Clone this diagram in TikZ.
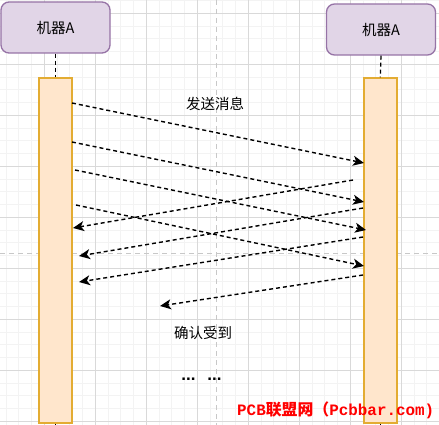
\documentclass[tikz,border=0pt]{standalone}
\usepackage{fontspec}
\setmainfont{Liberation Sans}
\newfontfamily\cjk{Noto Sans CJK SC}
\newfontfamily\wmmono{Liberation Mono}
\usetikzlibrary{arrows.meta}
\definecolor{boxfill}{HTML}{E1D5E7}
\definecolor{boxline}{HTML}{9673A6}
\definecolor{barfill}{HTML}{FFE6CC}
\definecolor{barline}{HTML}{E3AC32}
\definecolor{gridminor}{HTML}{F3F3F3}
\definecolor{gridmajor}{HTML}{D9D9D9}
\definecolor{guide}{HTML}{C8C8C8}
\tikzset{
  lifebox/.style={draw=boxline, fill=boxfill, line width=1.3pt, rounded corners=8pt,
    minimum width=109pt, minimum height=51pt, inner sep=0pt, font=\fontsize{14.5}{16}\selectfont\cjk},
  actbar/.style={draw=barline, fill=barfill, line width=1.5pt, minimum width=33pt, minimum height=345pt, inner sep=0pt},
  lifeline/.style={line width=1.3pt, dash pattern=on 4pt off 3pt},
  msg/.style={line width=1.4pt, dash pattern=on 4pt off 3pt, -{Stealth[length=11pt,width=10pt,inset=3pt]}},
  lbl/.style={font=\fontsize{14.5}{16}\selectfont\cjk, inner sep=0pt}
}
\begin{document}
\begin{tikzpicture}[x=1pt,y=-1pt]
\useasboundingbox (0,0) rectangle (439,425);
\fill[white] (0,0) rectangle (439,425);
% grid
\foreach \i in {-4,...,31} {
  \draw[gridminor, line width=0.8pt] ({44.3+12.75*\i},0) -- ({44.3+12.75*\i},425);
}
\foreach \i in {-2,...,33} {
  \draw[gridminor, line width=0.8pt] (0,{13.3+12.75*\i}) -- (439,{13.3+12.75*\i});
}
\foreach \i in {-1,...,8} {
  \draw[gridmajor, line width=0.8pt] ({44.3+51*\i},0) -- ({44.3+51*\i},425);
  \draw[gridmajor, line width=0.8pt] (0,{13.3+51*\i}) -- (439,{13.3+51*\i});
}
\draw[guide, line width=1pt, dash pattern=on 5pt off 4pt] (216,0) -- (216,425);
\draw[guide, line width=1pt, dash pattern=on 5pt off 4pt] (0,253) -- (439,253);

% lifelines
\node[lifebox] (A1) at (55.5,27.5) {机器A};
\node[lifebox] (A2) at (381,29.5) {机器A};
\node[actbar] (B1) at (55.5,250.5) {};
\node[actbar] (B2) at (380.3,250.5) {};
\coordinate (E1) at (55.5,440);
\coordinate (E2) at (380.3,440);
\draw[lifeline] (A1.south) -- (B1.north);
\draw[lifeline] (A2.south) -- (B2.north);
\draw[lifeline] (B1.south) -- (E1);
\draw[lifeline] (B2.south) -- (E2);

% messages
\coordinate (s1) at (72,103);  \coordinate (t1) at (364,163);
\coordinate (s2) at (72,142);  \coordinate (t2) at (364,202);
\coordinate (s3) at (75,170);  \coordinate (t3) at (366,230);
\coordinate (s4) at (76,205);  \coordinate (t4) at (364,266);
\coordinate (s5) at (353,180); \coordinate (t5) at (73,228);
\coordinate (s6) at (363,208); \coordinate (t6) at (79,256);
\coordinate (s7) at (363,237); \coordinate (t7) at (79,282);
\coordinate (s8) at (363,275); \coordinate (t8) at (160,306);
\foreach \k in {1,...,8} { \draw[msg] (s\k) -- (t\k); }

% labels
\node[lbl] (L1) at (215,104) {发送消息};
\node[lbl] (L2) at (203,333) {确认受到};
\node[lbl, font=\fontsize{17}{18}\selectfont\bfseries] (L3) at (201.5,379) {...\hspace{12pt}...};

% watermark
\node[text=red, inner sep=0pt, anchor=west] (W) at (237,410)
  {\resizebox{197pt}{!}{\fontsize{20}{22}\selectfont{\wmmono\bfseries PCB}{\cjk\bfseries 联盟网（}{\wmmono\bfseries Pcbbar.com)}}};
\end{tikzpicture}
\end{document}
